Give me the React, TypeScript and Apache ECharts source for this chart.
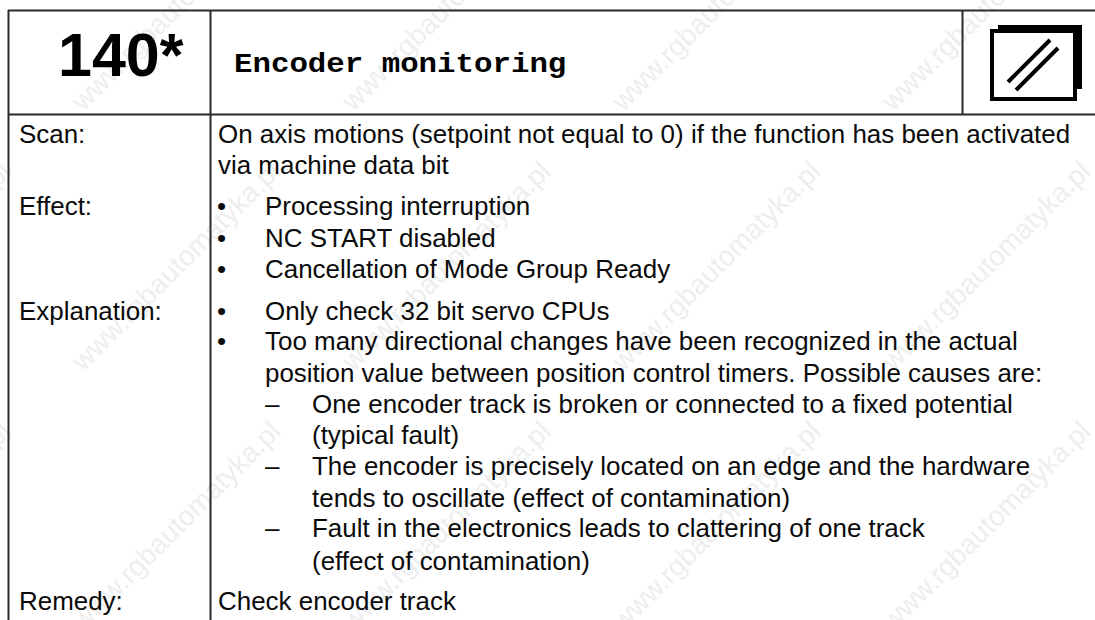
import React, { useEffect, useRef } from "react";
import * as echarts from "echarts";

const alarmNumber = "140*";
const alarmTitle = "Encoder monitoring";
const rowLabels = [
  ["Scan:", 143],
  ["Effect:", 215],
  ["Explanation:", 320],
  ["Remedy:", 610],
] as [string, number][];
const bulletLines = [215, 247, 278, 320, 350];
const dashLines = [413, 475, 537];
const bodyLines = [
  ["On axis motions (setpoint not equal to 0) if the function has been activated", 218, 143],
  ["via machine data bit", 218, 174],
  ["Processing interruption", 265, 215],
  ["NC START disabled", 265, 247],
  ["Cancellation of Mode Group Ready", 265, 278],
  ["Only check 32 bit servo CPUs", 265, 320],
  ["Too many directional changes have been recognized in the actual", 265, 350],
  ["position value between position control timers. Possible causes are:", 265, 382],
  ["One encoder track is broken or connected to a fixed potential", 312, 413],
  ["(typical fault)", 312, 444],
  ["The encoder is precisely located on an edge and the hardware", 312, 475],
  ["tends to oscillate (effect of contamination)", 312, 507],
  ["Fault in the electronics leads to clattering of one track", 312, 537],
  ["(effect of contamination)", 312, 570],
  ["Check encoder track", 218, 610],
] as [string, number, number][];
const watermarkText = "www.rgbautomatyka.pl";
const watermarkX = [-94, 176, 446, 716, 986];
const watermarkY = [6, 266, 526];

const SANS = '"Liberation Sans", Arial, sans-serif';
const INK = "#0a0a0a";
const BODY = 25.95;

function txt(text: string, x: number, baseline: number, extra: any = {}) {
  const size = extra.fontSize ?? BODY;
  return {
    type: "text",
    x,
    y: baseline - size * 0.36,
    silent: true,
    scaleX: extra.scaleX ?? 1,
    z: 5,
    style: {
      text,
      fill: extra.fill ?? INK,
      font: `${extra.weight ?? "normal"} ${size}px ${extra.family ?? SANS}`,
      align: "left",
      verticalAlign: "middle",
    },
  };
}
function line(x1: number, y1: number, x2: number, y2: number, w = 2, color = "#2a2a2a", z = 4) {
  return { type: "line", silent: true, z, shape: { x1, y1, x2, y2 }, style: { stroke: color, lineWidth: w } };
}
function box(x: number, y: number, width: number, height: number, fill: string) {
  return { type: "rect", silent: true, z: 6, shape: { x, y, width, height }, style: { fill } };
}

export default function App() {
  const ref = useRef<HTMLDivElement>(null);
  useEffect(() => {
    document.body.style.margin = "0";
    const chart = echarts.init(ref.current!, undefined, { renderer: "svg" });
    const elements: any[] = [];
    for (const cx of watermarkX) {
      for (const cy of watermarkY) {
        elements.push({
          type: "text",
          x: cx,
          y: cy,
          rotation: Math.PI / 4,
          silent: true,
          z: 1,
          style: {
            text: watermarkText,
            fill: "#eeeeee",
            font: `28px ${SANS}`,
            align: "center",
            verticalAlign: "middle",
          },
        });
      }
    }
    elements.push(
      line(8, 10.5, 1095, 10.5),
      line(8, 114.5, 1095, 114.5),
      line(8.5, 10, 8.5, 620),
      line(210.5, 10, 210.5, 620),
      line(962.5, 10, 962.5, 114)
    );
    elements.push(txt(alarmNumber, 58, 77, { fontSize: 61, weight: "bold", fill: "#000" }));
    elements.push(txt(alarmTitle, 234, 75, { fontSize: 27, weight: "bold", family: '"Liberation Mono", monospace', scaleX: 1.14, fill: "#000" }));
    for (const [t, y] of rowLabels) elements.push(txt(t, 19, y));
    for (const [t, x, y] of bodyLines) elements.push(txt(t, x, y));
    for (const y of bulletLines) elements.push(txt("•", 217, y));
    for (const y of dashLines) elements.push(txt("–", 265, y));
    elements.push(
      box(990, 29, 87, 72, "#000"),
      box(998, 25, 84, 8, "#000"),
      box(1073, 25, 9, 64, "#000"),
      box(994, 33, 79, 64, "#fff"),
      line(1008, 82, 1050, 40, 4, "#000", 7),
      line(1016, 90, 1058, 48, 4, "#000", 7)
    );
    chart.setOption({ animation: false, backgroundColor: "#ffffff", graphic: { elements } });
    return () => chart.dispose();
  }, []);
  return <div ref={ref} style={{ width: 1095, height: 620 }} />;
}
